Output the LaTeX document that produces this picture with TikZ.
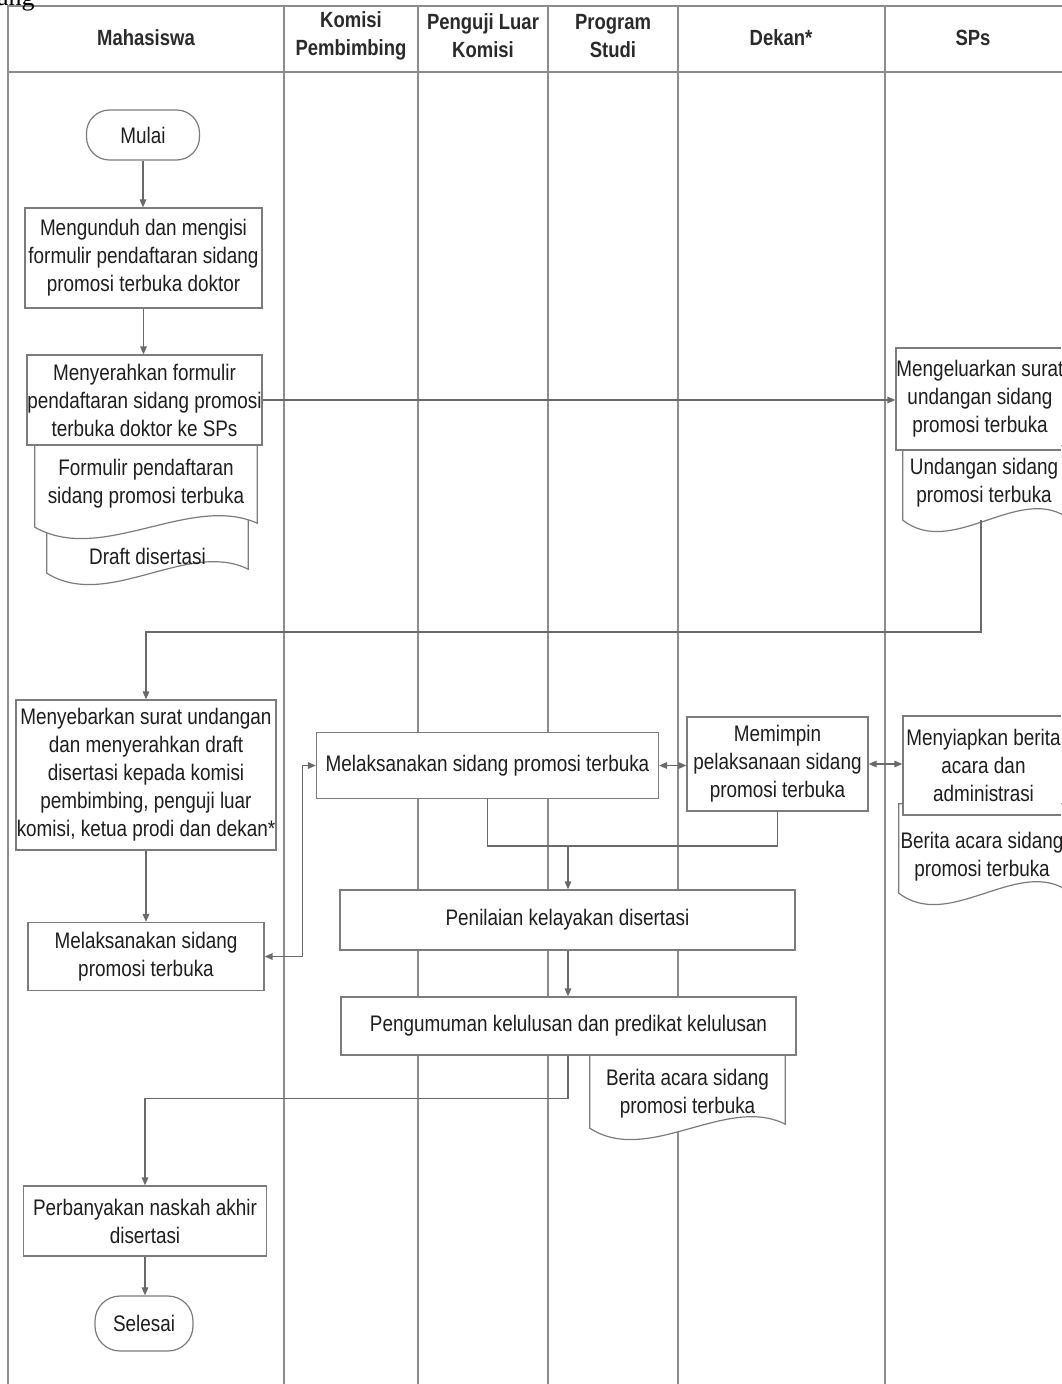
\documentclass[tikz,border=0pt]{standalone}
\usepackage{fontspec}
\setmainfont{Liberation Sans}[FakeStretch=0.84]
\newfontfamily\pageserif{Liberation Serif}
\usetikzlibrary{arrows.meta,calc}
\pgfdeclarelayer{lanes}
\pgfdeclarelayer{docs}
\pgfsetlayers{lanes,docs,main}

\definecolor{laneC}{HTML}{8C8C8C}
\definecolor{boxC}{HTML}{7C7C7C}
\definecolor{flowC}{HTML}{6A6A6A}
\definecolor{txtC}{HTML}{1E1E1E}
\definecolor{headC}{HTML}{2A2A2A}

\newcommand\bodyfnt{\fontsize{22.5}{28}\selectfont}
\newcommand\headfnt{\fontsize{22}{28}\selectfont\bfseries}

% document symbol: rectangle with a wavy lower edge, drawn under the node text
% #1 = extra height hidden above the node, #2 = node name
\newcommand\wavydoc[2][0]{%
  \begin{pgfonlayer}{docs}
    \path[docline] ($(#2.north west)+(0,-#1)$) -- (#2.south west)
      .. controls ($(#2.south west)!0.3!(#2.south east)+(0,38)$)
      and ($(#2.south west)!0.7!(#2.south east)+(0,-34)$)
      .. ($(#2.south east)+(0,-4)$) -- ($(#2.north east)+(0,-#1)$) -- cycle;
  \end{pgfonlayer}}

\begin{document}
\begin{tikzpicture}[x=1pt,y=-1pt,
  lane/.style={draw=laneC, line width=1.1pt},
  box/.style={draw=boxC, fill=white, line width=1.2pt, align=center,
    inner sep=0pt, text=txtC, font=\bodyfnt},
  term/.style={box, rounded corners=23pt},
  doctext/.style={align=center, inner sep=0pt, text=txtC, font=\bodyfnt},
  docline/.style={draw=boxC, fill=white, line width=1.2pt},
  head/.style={align=center, inner sep=0pt, font=\headfnt, text=headC},
  tip/.tip={Triangle[length=8pt,width=6.5pt]},
  link/.style={draw=flowC, line width=1.5pt},
  flow/.style={link, -tip},
  both/.style={link, tip-tip}
]
\clip (0,0) rectangle (1061,1384);

% page text above the table
\node[font=\pageserif\fontsize{26}{26}\selectfont, anchor=base west,
  inner sep=0pt, text=black] (pagetext) at (-3,5) {ang};

% swimlane table
\begin{pgfonlayer}{lanes}
  \draw[lane] (8,6) rectangle (1064,1400);
  \draw[lane] (8,72) -- (1064,72);
  \foreach \lx in {284,418,548,678,885}
    \draw[lane] (\lx,6) -- (\lx,1400);
\end{pgfonlayer}

\node[head] (h1) at (146,38) {Mahasiswa};
\node[head] (h2) at (351,36) {Komisi\\Pembimbing};
\node[head] (h3) at (483,36) {Penguji Luar\\Komisi};
\node[head] (h4) at (613,36) {Program\\Studi};
\node[head] (h5) at (781,38) {Dekan*};
\node[head] (h6) at (973,38) {SPs};

% documents
\node[doctext, minimum width=201pt, minimum height=34pt] (d2) at (147.5,556) {Draft disertasi};
\wavydoc[25]{d2}
\node[doctext, minimum width=222pt, minimum height=87pt] (d1) at (146,483.5)
  {Formulir pendaftaran\\sidang promosi terbuka};
\wavydoc{d1}
\node[doctext, minimum width=162pt, minimum height=74pt] (d3) at (984,483)
  {Undangan sidang\\promosi terbuka};
\wavydoc{d3}
\node[doctext, minimum width=166pt, minimum height=73pt] (d4) at (982,856.5)
  {Berita acara sidang\\promosi terbuka};
\wavydoc[16]{d4}
\node[doctext, minimum width=195pt, minimum height=68pt] (d5) at (687.5,1094)
  {Berita acara sidang\\promosi terbuka};
\wavydoc[6]{d5}

% process steps
\node[term, minimum width=113pt, minimum height=50pt] (mulai) at (143,135) {Mulai};
\node[box, minimum width=237pt, minimum height=100pt] (b1) at (143.5,258)
  {Mengunduh dan mengisi\\formulir pendaftaran sidang\\promosi terbuka doktor};
\node[box, minimum width=235pt, minimum height=90pt] (b2) at (144.5,400)
  {Menyerahkan formulir\\pendaftaran sidang promosi\\terbuka doktor ke SPs};
\node[box, minimum width=168pt, minimum height=102pt] (b3) at (980,399)
  {Mengeluarkan surat\\undangan sidang\\promosi terbuka};
\node[box, minimum width=260pt, minimum height=150pt] (b4) at (146,775)
  {Menyebarkan surat undangan\\dan menyerahkan draft\\disertasi kepada komisi\\pembimbing, penguji luar\\komisi, ketua prodi dan dekan*};
\node[box, minimum width=236pt, minimum height=68pt] (b5) at (146,956.5)
  {Melaksanakan sidang\\promosi terbuka};
\node[box, minimum width=342pt, minimum height=66pt] (b6) at (487.5,765.5)
  {Melaksanakan sidang promosi terbuka};
\node[box, minimum width=181pt, minimum height=94pt] (b11) at (777.5,764)
  {Memimpin\\pelaksanaan sidang\\promosi terbuka};
\node[box, minimum width=161pt, minimum height=99pt] (b12) at (983.5,765.5)
  {Menyiapkan berita\\acara dan\\administrasi};
\node[box, minimum width=455pt, minimum height=60pt] (b7) at (567.5,920)
  {Penilaian kelayakan disertasi};
\node[box, minimum width=455pt, minimum height=58pt] (b8) at (568.5,1026)
  {Pengumuman kelulusan dan predikat kelulusan};
\node[box, minimum width=243pt, minimum height=70pt] (b9) at (145,1221)
  {Perbanyakan naskah akhir\\disertasi};
\node[term, minimum width=98pt, minimum height=55pt, rounded corners=25pt] (selesai) at (144,1323.5) {Selesai};

% connectors
\coordinate (d3out) at ($(d3.south west)!0.48!(d3.south east)$);
\coordinate (join) at (568,845);

\draw[flow] (mulai.south) -- (mulai.south |- b1.north);
\draw[flow] (b1.south) -- (b1.south |- b2.north);
\draw[flow] (b2.east) -- (b2.east -| b3.west);
\draw[flow] (d3out) -- ++(0,112) -| (b4.north);
\draw[flow] (b4.south) -- (b4.south |- b5.north);
\draw[both] (b5.east) -- ++(38,0) |- (b6.west);
\draw[both] (b6.east) -- (b6.east -| b11.west);
\draw[both] (b11.east) -- (b11.east -| b12.west);
\draw[link] (b6.south) -- ++(0,47) -| (b11.south);
\draw[flow] (join) -- (join |- b7.north);
\draw[flow] (b7.south -| join) -- (join |- b8.north);
\draw[flow] (b8.south -| join) -- ++(0,43) -| (b9.north);
\draw[flow] (b9.south) -- (b9.south |- selesai.north);
\end{tikzpicture}
\end{document}
